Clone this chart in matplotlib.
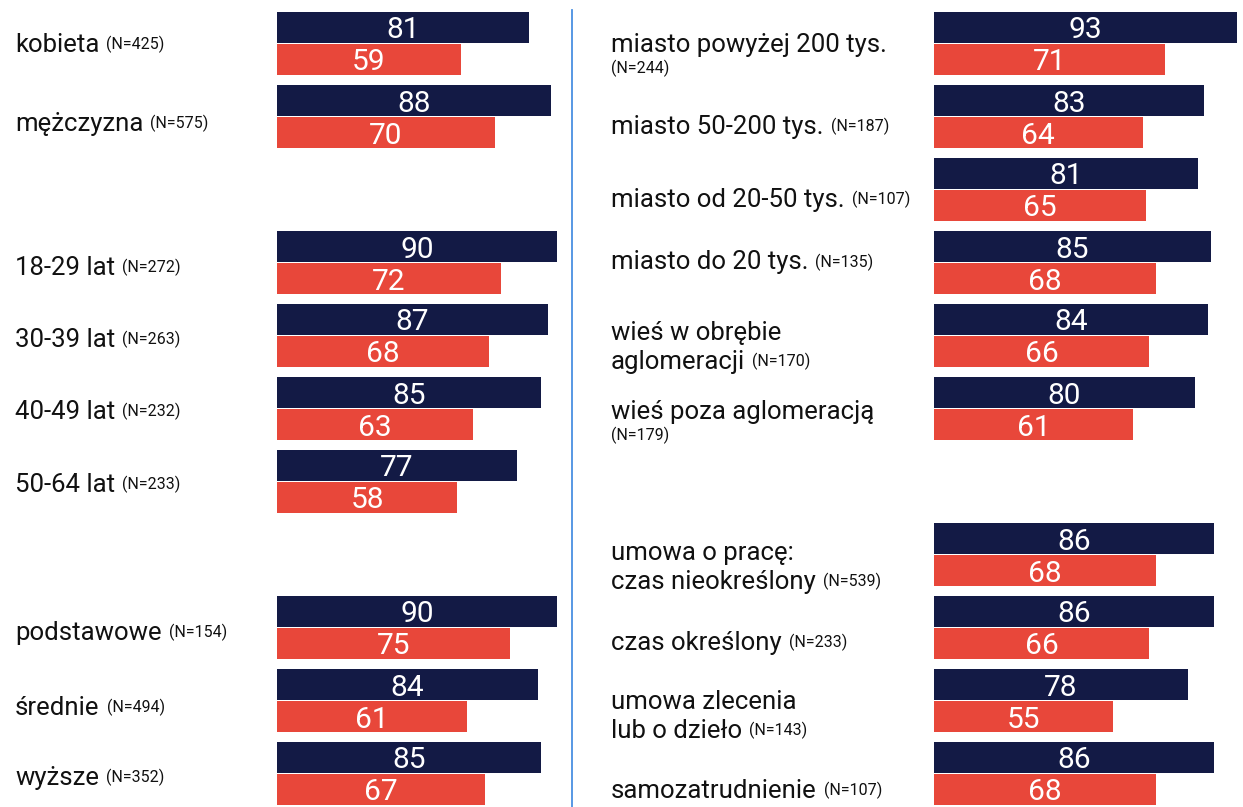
import matplotlib
matplotlib.use("Agg")
import matplotlib.pyplot as plt
from matplotlib.lines import Line2D
from matplotlib.transforms import blended_transform_factory
import numpy as np

# data
left_labels = ["kobieta", "mężczyzna", "18-29 lat", "30-39 lat", "40-49 lat", "50-64 lat",
               "podstawowe", "średnie", "wyższe"]
left_n = [425, 575, 272, 263, 232, 233, 154, 494, 352]
left_rows = [0, 1, 3, 4, 5, 6, 8, 9, 10]
left_dark = [81, 88, 90, 87, 85, 77, 90, 84, 85]
left_red = [59, 70, 72, 68, 63, 58, 75, 61, 67]

right_labels = ["miasto powyżej 200 tys.", "miasto 50-200 tys.", "miasto od 20-50 tys.",
                "miasto do 20 tys.", "wieś w obrębie\naglomeracji", "wieś poza aglomeracją",
                "umowa o pracę:\nczas nieokreślony", "czas określony",
                "umowa zlecenia\nlub o dzieło", "samozatrudnienie"]
right_n = [244, 187, 107, 135, 170, 179, 539, 233, 143, 107]
right_rows = [0, 1, 2, 3, 4, 5, 7, 8, 9, 10]
right_dark = [93, 83, 81, 85, 84, 80, 86, 86, 78, 86]
right_red = [71, 64, 65, 68, 66, 61, 68, 66, 55, 68]
right_n_below = [True, False, False, False, False, True, False, False, False, False]

# layout (pixels)
W, H = 1243, 807
PITCH, TOP, BAR_H = 73, 12, 31
NAVY = "#131a45"
RED = "#e8473a"
left_off = [1.5, 7.5, 5.5, 4.5, 3.5, 3.5, 5.5, 7.5, 4.5]
right_off = [1.5, 10.5, 10.5, 0, -2.5, 3.5, -1.5, 15.5, 1.5, 17.5]

plt.rcParams['font.family'] = ['Roboto', 'DejaVu Sans']
TXT = dict(color="#111111")

fig = plt.figure(figsize=(W / 100, H / 100), dpi=100)
renderer = fig.canvas.get_renderer()


def panel(bar_x0, width, scale, label_x, labels, ns, rows, dark, red, offs, n_below):
    ax = fig.add_axes([bar_x0 / W, 0, width / W, 1])
    ax.set_xlim(0, width / scale)
    ax.set_ylim((H - TOP) / PITCH, -TOP / PITCH)
    ax.axis("off")
    rows = np.array(rows, dtype=float)
    h = BAR_H / PITCH
    ax.barh(rows + 15.5 / PITCH, dark, height=h, color=NAVY, edgecolor="none")
    ax.barh(rows + 47.5 / PITCH, red, height=h, color=RED, edgecolor="none")
    for r, d, e in zip(rows, dark, red):
        ax.text(d / 2, r + 18.5 / PITCH, str(d), ha="center", va="center",
                color="white", fontsize=21.5)
        ax.text(e / 2, r + 50.5 / PITCH, str(e), ha="center", va="center",
                color="white", fontsize=21.5)

    trans = blended_transform_factory(fig.transFigure, ax.transData)
    for lab, n, r, off, below in zip(labels, ns, rows, offs, n_below):
        lines = lab.split("\n")
        y = r + (31.5 + off) / PITCH
        t = None
        for i, line in enumerate(lines):
            t = ax.text(label_x / W, y + i * 29 / PITCH, line, transform=trans,
                        ha="left", va="center", fontsize=18.5, **TXT)
        bb = t.get_window_extent(renderer)
        if below:
            ax.text(label_x / W, y + (len(lines) - 1) * 29 / PITCH + 23 / PITCH,
                    f"(N={n})", transform=trans, ha="left", va="center",
                    fontsize=11.5, **TXT)
        else:
            fig.text((bb.x1 + 7) / W, (bb.y1 - 3) / H, f"(N={n})", ha="left",
                     va="top", fontsize=11.5, **TXT)
    return ax


panel(277, 290, 280 / 90, 15, left_labels, left_n, left_rows, left_dark, left_red,
      left_off, [False] * len(left_labels))
panel(934, 309, 303 / 93, 611, right_labels, right_n, right_rows, right_dark, right_red,
      right_off, right_n_below)

fig.add_artist(Line2D([572 / W, 572 / W], [0, 1 - 10 / H], transform=fig.transFigure,
                      color="#4a90e2", lw=1.3))

fig.savefig("out.png", dpi=100, facecolor="white")
